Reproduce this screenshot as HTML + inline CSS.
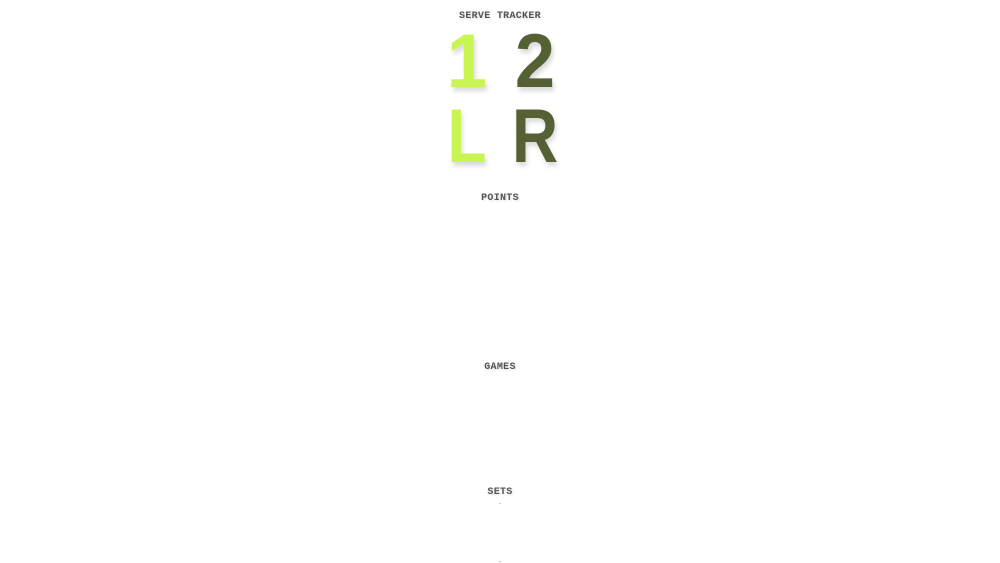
<!DOCTYPE html>
<html><head><meta charset="utf-8"><style>
html,body{margin:0;padding:0;background:#fff;width:1000px;height:563px;overflow:hidden;position:relative;font-family:"Liberation Mono",monospace}
.lbl{position:absolute;left:0;width:1000px;text-align:center;font-size:10px;font-weight:bold;color:#555;letter-spacing:0.3px;text-shadow:1px 1px 2px rgba(0,0,0,0.15)}
.big{position:absolute;width:60px;text-align:center;font-family:"Liberation Sans",sans-serif;font-weight:bold;font-size:76px;line-height:76px;text-shadow:2px 4px 5px rgba(0,0,0,0.15)}
.n{transform:scaleX(0.95)}
.w{transform:scaleX(0.84)}
.a{color:#c8f552}.b{color:#556035}
.dot{position:absolute;left:499px;width:2px;height:1px;background:#ccc}
</style></head><body>
<div class="lbl" style="top:11px">SERVE TRACKER</div>
<div class="big a n" style="left:437px;top:24px">1</div>
<div class="big b n" style="left:505px;top:24px">2</div>
<div class="big a w" style="left:437px;top:99px">L</div>
<div class="big b w" style="left:505px;top:99px">R</div>
<div class="lbl" style="top:193px">POINTS</div>
<div class="lbl" style="top:362px">GAMES</div>
<div class="lbl" style="top:487px">SETS</div>
<div class="dot" style="top:503px"></div>
<div class="dot" style="top:561px"></div>
</body></html>
